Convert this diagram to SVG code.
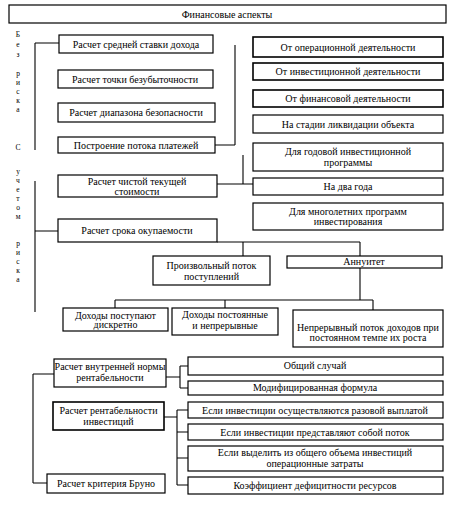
<svg xmlns="http://www.w3.org/2000/svg" width="458" height="510" viewBox="0 0 458 510">
<style>
.b{fill:#fff;stroke:#000;stroke-width:1.2}
.bb{fill:#fff;stroke:#000;stroke-width:1.6}
.t{font-family:"Liberation Serif","Times New Roman",serif;font-size:10px;fill:#000;text-anchor:middle}
.v{font-family:"Liberation Serif","Times New Roman",serif;font-size:7.5px;fill:#000;text-anchor:middle}
.c{stroke:#000;stroke-width:1.1;fill:none}
</style>
<rect width="458" height="510" fill="#fff"/>
<g id="connectors">
<path class="c" d="M35 43V150M35 43H59"/>
<path class="c" d="M35 181V312M35 231H58"/>
<path class="c" d="M235 45V145M215 145H235"/>
<path class="c" d="M217 184H253M243 155V184"/>
<path class="c" d="M217 242H360M243 242V256M360 242V256"/>
<path class="c" d="M360 268V300M115 300H373M115 300V308M225 300V308M373 300V310"/>
<path class="c" d="M33 374V483M33 374H54M33 483H47"/>
<path class="c" d="M166 377H180M180 366V388M180 366H188M180 388H188"/>
<path class="c" d="M164 417H177M177 410V485M177 410H188M177 432H188M177 458H188M177 485H188"/>
</g>
<g id="title"><rect class="b" x="9" y="5" width="437" height="18"/><text class="t" x="227" y="17.5">Финансовые аспекты</text></g>
<g id="side1" class="v">
<text x="18" y="37">Б</text><text x="18" y="47">е</text><text x="18" y="57">з</text>
<text x="18" y="76">р</text><text x="18" y="85">и</text><text x="18" y="94">с</text><text x="18" y="103">к</text><text x="18" y="112">а</text>
</g>
<g id="side2" class="v">
<text x="18" y="150">С</text>
<text x="18" y="174">у</text><text x="18" y="183">ч</text><text x="18" y="192">е</text><text x="18" y="201">т</text><text x="18" y="210">о</text><text x="18" y="219">м</text>
<text x="18" y="246">р</text><text x="18" y="255">и</text><text x="18" y="264">с</text><text x="18" y="273">к</text><text x="18" y="282">а</text>
</g>
<g id="n1"><rect class="b" x="59" y="35" width="154" height="18"/><text class="t" x="136" y="47.5">Расчет средней ставки дохода</text></g>
<g id="n2"><rect class="b" x="58" y="70" width="155" height="18"/><text class="t" x="135" y="82.5">Расчет точки безубыточности</text></g>
<g id="n3"><rect class="b" x="58" y="103" width="157" height="19"/><text class="t" x="136" y="116">Расчет диапазона безопасности</text></g>
<g id="n4"><rect class="b" x="58" y="137" width="157" height="16"/><text class="t" x="136" y="148.5">Построение потока платежей</text></g>
<g id="n5"><rect class="b" x="58" y="175" width="159" height="22"/><text class="t" x="137" y="185">Расчет чистой текущей</text><text class="t" x="137" y="195">стоимости</text></g>
<g id="n6"><rect class="b" x="58" y="219" width="159" height="23"/><text class="t" x="137" y="233.5">Расчет срока окупаемости</text></g>
<g id="r1"><rect class="bb" x="253" y="37" width="190" height="20"/><text class="t" x="348" y="50.5">От операционной деятельности</text></g>
<g id="r2"><rect class="bb" x="253" y="63" width="190" height="17"/><text class="t" x="348" y="75">От инвестиционной деятельности</text></g>
<g id="r3"><rect class="bb" x="253" y="90" width="190" height="17"/><text class="t" x="348" y="102">От финансовой деятельности</text></g>
<g id="r4"><rect class="b" x="253" y="115" width="190" height="18"/><text class="t" x="348" y="127.5">На стадии ликвидации объекта</text></g>
<g id="r5"><rect class="b" x="253" y="143" width="190" height="28"/><text class="t" x="348" y="154.5">Для годовой инвестиционной</text><text class="t" x="348" y="166">программы</text></g>
<g id="r6"><rect class="b" x="253" y="178" width="190" height="17"/><text class="t" x="348" y="189.5">На два года</text></g>
<g id="r7"><rect class="b" x="253" y="203" width="190" height="27"/><text class="t" x="348" y="215">Для многолетних программ</text><text class="t" x="348" y="225">инвестирования</text></g>
<g id="p1"><rect class="b" x="153" y="256" width="117" height="29"/><text class="t" x="211.5" y="268.5">Произвольный поток</text><text class="t" x="211.5" y="279.5">поступлений</text></g>
<g id="p2"><rect class="b" x="287" y="256" width="155" height="12"/><text class="t" x="364" y="265">Аннуитет</text></g>
<g id="a1"><rect class="b" x="63" y="308" width="105" height="23"/><text class="t" x="115.5" y="318.5">Доходы поступают</text><text class="t" x="115.5" y="328">дискретно</text></g>
<g id="a2"><rect class="b" x="172" y="308" width="106" height="27"/><text class="t" x="225" y="317.5">Доходы постоянные</text><text class="t" x="225" y="328.5">и непрерывные</text></g>
<g id="a3"><rect class="b" x="293" y="310" width="150" height="37"/><text class="t" x="368" y="330.5">Непрерывный поток доходов при</text><text class="t" x="368" y="341">постоянном темпе их роста</text></g>
<g id="b1"><rect class="b" x="54" y="359" width="112" height="28"/><text class="t" x="110" y="369.5">Расчет внутренней нормы</text><text class="t" x="110" y="380.5">рентабельности</text></g>
<g id="b2"><rect class="bb" x="53" y="402" width="111" height="28"/><text class="t" x="108.5" y="413.5">Расчет рентабельности</text><text class="t" x="108.5" y="424.5">инвестиций</text></g>
<g id="b3"><rect class="b" x="47" y="474" width="118" height="19"/><text class="t" x="106" y="486.5">Расчет критерия Бруно</text></g>
<g id="c1"><rect class="b" x="188" y="357" width="255" height="18"/><text class="t" x="315" y="368.5">Общий случай</text></g>
<g id="c2"><rect class="b" x="188" y="381" width="255" height="14"/><text class="t" x="315" y="390.5">Модифицированная формула</text></g>
<g id="c3"><rect class="b" x="188" y="402" width="255" height="16"/><text class="t" x="315" y="414">Если инвестиции осуществляются разовой выплатой</text></g>
<g id="c4"><rect class="b" x="188" y="424" width="255" height="16"/><text class="t" x="315" y="435.5">Если инвестиции представляют собой поток</text></g>
<g id="c5"><rect class="b" x="188" y="446" width="255" height="25"/><text class="t" x="315" y="455.5">Если выделить из общего объема инвестиций</text><text class="t" x="315" y="466.5">операционные затраты</text></g>
<g id="c6"><rect class="b" x="188" y="477" width="255" height="17"/><text class="t" x="315" y="489">Коэффициент дефицитности ресурсов</text></g>
</svg>
